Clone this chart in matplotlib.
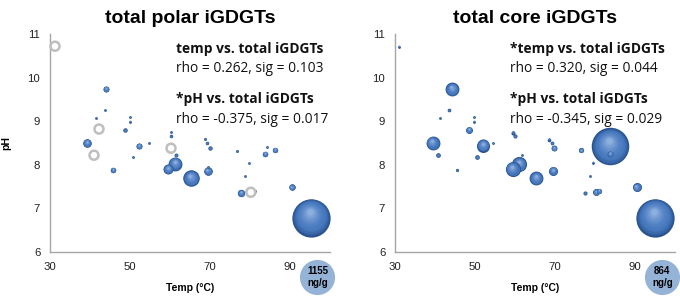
import numpy as np
import matplotlib
matplotlib.use("Agg")
import matplotlib.pyplot as plt
from matplotlib.colors import to_rgb

# ---------------- data ----------------
# total polar iGDGTs (ng/g)
polar_temp = [44.0, 43.75, 41.4, 50.0, 50.0, 48.75, 39.3, 52.3, 54.75, 60.25, 60.25,
              68.75, 69.3, 70.0, 84.2, 86.25, 50.8, 45.75, 61.6, 59.6, 61.25, 65.2,
              69.4, 69.4, 76.8, 79.8, 78.75, 77.75, 81.2, 83.75, 90.4, 95.2]
polar_ph = [9.74, 9.26, 9.08, 9.10, 8.99, 8.80, 8.50, 8.43, 8.50, 8.75, 8.65,
            8.59, 8.50, 8.38, 8.41, 8.34, 8.18, 7.88, 8.23, 7.90, 8.02, 7.69,
            7.86, 7.95, 8.32, 8.04, 7.75, 7.35, 7.40, 8.25, 7.48, 6.79]
polar_conc = [28, 5, 4, 3, 3, 16, 57, 28, 2, 4, 10,
              7, 10, 15, 3, 23, 2, 24, 12, 78, 152, 214,
              57, 2, 7, 2, 3, 42, 7, 24, 32, 1155]
# samples without polar iGDGT data (open grey circles)
polar_nd_temp = [31.25, 42.25, 41.0, 60.25, 80.2]
polar_nd_ph = [10.72, 8.82, 8.22, 8.38, 7.37]

# total core iGDGTs (ng/g)
core_temp = [31.1, 44.2, 43.5, 41.25, 49.8, 49.8, 48.5, 39.4, 52.1, 54.4, 59.6,
             60.0, 68.6, 69.2, 69.8, 76.5, 83.75, 83.75, 40.8, 45.4, 50.6, 59.4,
             61.0, 61.7, 65.25, 69.6, 79.6, 78.75, 77.5, 80.2, 81.1, 90.4, 95.0]
core_ph = [10.71, 9.73, 9.26, 9.08, 9.09, 8.99, 8.80, 8.50, 8.44, 8.50, 8.74,
           8.65, 8.58, 8.50, 8.38, 8.33, 8.42, 8.25, 8.22, 7.88, 8.17, 7.90,
           8.01, 8.22, 7.69, 7.86, 8.05, 7.75, 7.35, 7.37, 7.40, 7.48, 6.79]
core_conc = [1, 113, 8, 4, 2, 2, 27, 113, 100, 4, 10,
             10, 8, 8, 20, 16, 830, 20, 13, 6, 13, 135,
             135, 3, 113, 47, 4, 4, 10, 27, 16, 47, 864]

titles = ["total polar iGDGTs", "total core iGDGTs"]
stats = [["temp vs. total iGDGTs", "rho = 0.262, sig = 0.103",
          "*pH vs. total iGDGTs", "rho = -0.375, sig = 0.017"],
         ["*temp vs. total iGDGTs", "rho = 0.320, sig = 0.044",
          "*pH vs. total iGDGTs", "rho = -0.345, sig = 0.029"]]
ref_labels = ["1155\nng/g", "864\nng/g"]
x_ticks = [30, 50, 70, 90]
y_ticks = [6, 7, 8, 9, 10, 11]

# ---------------- figure ----------------
W, H, DPI = 680, 299, 100
fig = plt.figure(figsize=(W / DPI, H / DPI), dpi=DPI)
fig.patch.set_facecolor("white")

def px_rect(x0, x1, ytop, ybot):
    return [x0 / W, 1 - ybot / H, (x1 - x0) / W, (ybot - ytop) / H]

ax1 = fig.add_axes(px_rect(50, 330, 34, 252))
ax2 = fig.add_axes(px_rect(395, 675, 34, 252))

TICKFONT = "Liberation Sans"
ANNFONT = "Open Sans"
SMAX = 760.0   # marker area (pt^2) of the largest bubble
SMIN = 4.0     # smallest visible bubble

# smooth pseudo-3D shading: dark rim -> mid blue -> light highlight
rim = np.array(to_rgb("#2A5490"))
mid = np.array(to_rgb("#4678BE"))
hi = np.array(to_rgb("#8EB0DE"))
layers = []
N = 14
for i in range(N):
    t = i / (N - 1)
    frac = 1.0 - 0.85 * t
    if t < 0.25:
        c = rim + (mid - rim) * (t / 0.25)
    else:
        c = mid + (hi - mid) * ((t - 0.25) / 0.75) ** 1.6
    layers.append((frac, -0.05 * t, 0.30 * t, tuple(np.clip(c, 0, 1))))

def bubbles(ax, xs, ys, vals):
    xs = np.asarray(xs, float)
    ys = np.asarray(ys, float)
    vals = np.asarray(vals, float)
    s = np.maximum(SMAX * vals / vals.max(), SMIN)
    order = np.argsort(-s)
    xs, ys, s = xs[order], ys[order], s[order]
    ppx = ax.bbox.width / (ax.get_xlim()[1] - ax.get_xlim()[0])
    ppy = ax.bbox.height / (ax.get_ylim()[1] - ax.get_ylim()[0])
    r_px = np.sqrt(s) / 2 * DPI / 72.0
    for i in range(len(xs)):
        use = layers if r_px[i] > 2.5 else [layers[0], layers[5]]
        for frac, dx, dy, col in use:
            ax.scatter(xs[i] + dx * r_px[i] / ppx, ys[i] + dy * r_px[i] / ppy,
                       s=s[i] * frac ** 2, color=col, linewidths=0,
                       zorder=3 + i * 0.01, clip_on=False)

for k, ax in enumerate([ax1, ax2]):
    ax.set_xlim(30, 100)
    ax.set_ylim(6, 11)
    ax.set_xticks(x_ticks)
    ax.set_yticks(y_ticks)
    for sp in ["top", "right"]:
        ax.spines[sp].set_visible(False)
    for sp in ["left", "bottom"]:
        ax.spines[sp].set_color("#A6A6A6")
        ax.spines[sp].set_linewidth(1.0)
    ax.tick_params(length=0, pad=7, labelsize=8.2, colors="#222222")
    for lab in ax.get_xticklabels() + ax.get_yticklabels():
        lab.set_fontfamily(TICKFONT)
    ax.set_xlabel("Temp (°C)", fontsize=7.5, fontweight="bold",
                  family=TICKFONT, labelpad=8)
    ax.set_title(titles[k], fontsize=14, fontweight="bold", family=TICKFONT,
                 pad=8)
    xs_t = 0.45 if k == 0 else 0.41
    yy = [0.93, 0.84, 0.70, 0.61]
    for j, line in enumerate(stats[k]):
        ax.text(xs_t, yy[j], line, transform=ax.transAxes, fontsize=9.9,
                fontweight="bold" if j % 2 == 0 else "normal",
                family=ANNFONT, va="center", ha="left", color="#111111")
    ax.scatter([0.955], [-0.115], s=640, color="#95B3D7", transform=ax.transAxes,
               clip_on=False, zorder=5, linewidths=0)
    ax.text(0.955, -0.115, ref_labels[k], transform=ax.transAxes, ha="center",
            va="center", fontsize=7, fontweight="bold", family=TICKFONT,
            linespacing=1.15, zorder=6)

ax1.set_ylabel("pH", fontsize=7.5, fontweight="bold", family=TICKFONT, labelpad=12)

bubbles(ax1, polar_temp, polar_ph, polar_conc)
ax1.scatter(polar_nd_temp, polar_nd_ph, s=42, facecolors="none",
            edgecolors="#BFBFBF", linewidths=1.8, zorder=4, clip_on=False)
bubbles(ax2, core_temp, core_ph, core_conc)

fig.savefig("out.png", dpi=DPI)
